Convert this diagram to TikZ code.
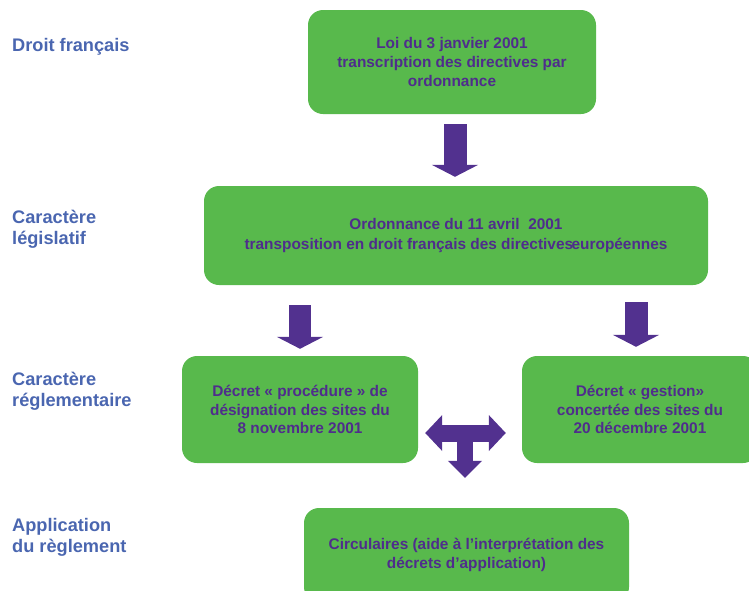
\documentclass[tikz,border=0pt]{standalone}
\usepackage{fontspec}
\setmainfont{Liberation Sans}
\usepackage{tikz}
\usetikzlibrary{arrows.meta}

\definecolor{boxgreen}{HTML}{58B94C}
\definecolor{txtpurple}{HTML}{4F2D8C}
\definecolor{arrpurple}{HTML}{52318F}
\definecolor{lblblue}{HTML}{4A66B0}

\begin{document}
\begin{tikzpicture}[x=1pt, y=-1pt,
  box/.style={fill=boxgreen, rounded corners=15pt, text=txtpurple, align=center,
    inner sep=0pt, font=\fontsize{15.4}{18.8}\selectfont\bfseries},
  lbl/.style={anchor=west, text=lblblue, align=left, inner sep=0pt,
    font=\fontsize{18.2}{20.8}\selectfont\bfseries},
  fat/.style={arrpurple, line width=23pt, -{Triangle[width=46pt,length=12pt]}},
  tbar/.style={arrpurple, line width=17pt,
    {Triangle[width=35pt,length=17pt]}-{Triangle[width=35pt,length=17pt]}}]

  \clip (0,0) rectangle (749,590);

  % levels on the left
  \node [lbl] (T0) at (12,47) {Droit français};
  \node [lbl] (T1) at (12,229) {Caractère\\législatif};
  \node [lbl] (T2) at (12,391) {Caractère\\réglementaire};
  \node [lbl] (T3) at (12,537) {Application\\du règlement};

  % texts
  \node [box, minimum width=288pt, minimum height=104pt] (Loi) at (452,62)
    {Loi du 3 janvier 2001\\transcription des directives par\\ordonnance};
  \node [box, minimum width=504pt, minimum height=99pt] (Ord) at (456,235.5)
    {Ordonnance du 11 avril~ 2001\\[1.5pt]transposition en droit français des directives\kern-1.5pt européennes};
  \node [box, minimum width=236pt, minimum height=107pt] (DecP) at (300,409.5)
    {Décret « procédure » de\\désignation des sites du\\8 novembre 2001};
  \node [box, minimum width=236pt, minimum height=107pt] (DecG) at (640,409.5)
    {Décret « gestion»\\concertée des sites du\\20 décembre 2001};
  \node [box, minimum width=325pt, minimum height=94pt] (Circ) at (466.5,555)
    {Circulaires (aide à l’interprétation des\\décrets d’application)};

  \coordinate (A) at ([xshift=3pt]Loi.south);
  \coordinate (B) at ([xshift=-4pt]DecG.north);
  \coordinate (J) at (465,433);

  \draw [fat, shorten <=10pt, shorten >=9pt] (A) -- (A |- Ord.north);
  \draw [fat, line width=22pt, shorten <=20pt, shorten >=7pt] (DecP.north |- Ord.south) -- (DecP.north);
  \draw [fat, shorten <=17pt, shorten >=9pt] (B |- Ord.south) -- (B);

  \draw [tbar, shorten <=7pt, shorten >=16pt] (DecP.east |- J) -- (DecG.west |- J);
  \draw [arrpurple, line width=16pt, -{Triangle[width=33pt,length=17pt]}, shorten >=30pt] (J) -- (J |- Circ.north);
\end{tikzpicture}
\end{document}
